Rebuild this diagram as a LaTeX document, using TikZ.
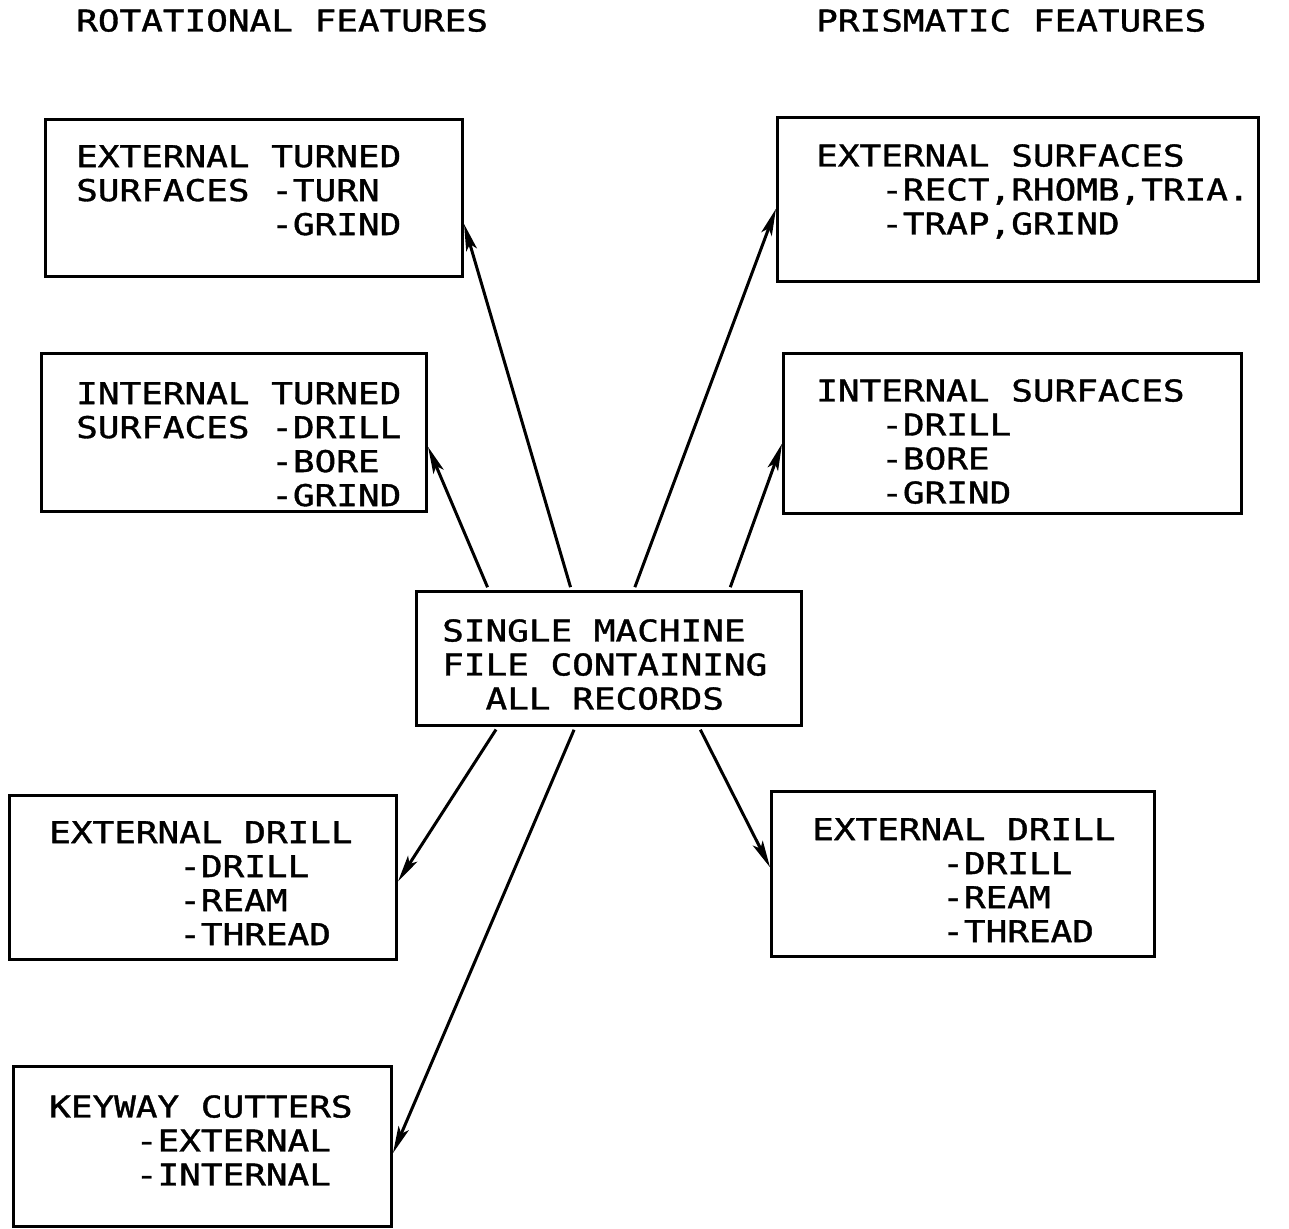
\documentclass[tikz,border=0pt]{standalone}
\usepackage{fontspec}
\setmonofont[FakeStretch=1.2,FakeBold=1.2]{DejaVu Sans Mono}
\usetikzlibrary{arrows.meta,calc}
\tikzset{
  boxnode/.style={draw, line width=3pt, anchor=north west, inner sep=0pt},
  txt/.style={anchor=north west, inner sep=0pt, align=left},
  conn/.style={line width=3pt, -{Stealth[length=27pt,width=11pt,inset=6pt]}, shorten <=3pt},
}
\newcommand{\ind}[1]{\phantom{#1}}
\begin{document}
\begin{tikzpicture}[x=1pt,y=-1pt,font=\ttfamily\fontsize{30}{34}\selectfont]
\useasboundingbox[fill=white] (0,0) rectangle (1289,1228);

% titles
\node[txt] (t1) at (76,9) {ROTATIONAL FEATURES};
\node[txt] (t2) at (816,9) {PRISMATIC FEATURES};

% boxes
\node[boxnode, minimum width=417pt, minimum height=157pt] (et) at (44,118) {};
\node[boxnode, minimum width=385pt, minimum height=158pt] (it) at (40,352) {};
\node[boxnode, minimum width=481pt, minimum height=164pt] (es) at (776,116) {};
\node[boxnode, minimum width=458pt, minimum height=160pt] (is) at (782,352) {};
\node[boxnode, minimum width=385pt, minimum height=134pt] (c) at (415,590) {};
\node[boxnode, minimum width=387pt, minimum height=164pt] (edl) at (8,794) {};
\node[boxnode, minimum width=383pt, minimum height=165pt] (edr) at (770,790) {};
\node[boxnode, minimum width=378pt, minimum height=160pt] (kw) at (12,1065) {};

% texts
\node[txt] (et-t) at (76,145) {EXTERNAL TURNED\\SURFACES -TURN\\\ind{SURFACES }-GRIND};
\node[txt] (it-t) at (76,382) {INTERNAL TURNED\\SURFACES -DRILL\\\ind{SURFACES }-BORE\\\ind{SURFACES }-GRIND};
\node[txt] (es-t) at (816,144) {EXTERNAL SURFACES\\\ind{AAA}-RECT,RHOMB,TRIA.\\\ind{AAA}-TRAP,GRIND};
\node[txt] (is-t) at (816,379) {INTERNAL SURFACES\\\ind{AAA}-DRILL\\\ind{AAA}-BORE\\\ind{AAA}-GRIND};
\node[txt] (c-t) at (442,619) {SINGLE MACHINE\\FILE CONTAINING\\\ind{AA}ALL RECORDS};
\node[txt] (edl-t) at (49,821) {EXTERNAL DRILL\\\ind{AAAAAA}-DRILL\\\ind{AAAAAA}-REAM\\\ind{AAAAAA}-THREAD};
\node[txt] (edr-t) at (812,818) {EXTERNAL DRILL\\\ind{AAAAAA}-DRILL\\\ind{AAAAAA}-REAM\\\ind{AAAAAA}-THREAD};
\node[txt] (kw-t) at (49,1095) {KEYWAY CUTTERS\\\ind{AAAA}-EXTERNAL\\\ind{AAAA}-INTERNAL};

% connectors
\draw[conn] ($(c.north west)!0.403!(c.north east)$) -- ($(et.north east)!0.662!(et.south east)$);
\draw[conn] ($(c.north west)!0.19!(c.north east)$) -- ($(it.north east)!0.589!(it.south east)$);
\draw[conn] ($(c.north west)!0.564!(c.north east)$) -- ($(es.north west)!0.555!(es.south west)$);
\draw[conn] ($(c.north west)!0.81!(c.north east)$) -- ($(is.north west)!0.5625!(is.south west)$);
\draw[conn] ($(c.south west)!0.213!(c.south east)$) -- ($(edl.north east)!0.524!(edl.south east)$);
\draw[conn] ($(c.south west)!0.413!(c.south east)$) -- ($(kw.north east)!0.54!(kw.south east)$);
\draw[conn] ($(c.south west)!0.732!(c.south east)$) -- ($(edr.north west)!0.46!(edr.south west)$);
\end{tikzpicture}
\end{document}
